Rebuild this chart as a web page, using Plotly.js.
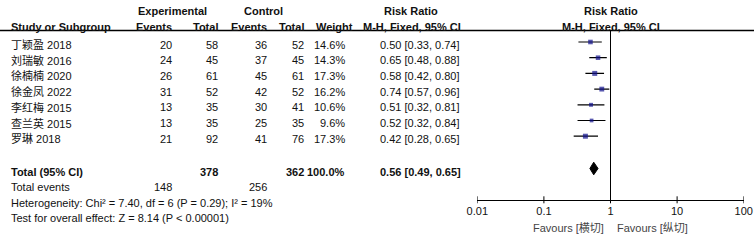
<!DOCTYPE html>
<html>
<head>
<meta charset="utf-8">
<script src="https://cdn.plot.ly/plotly-3.0.1.min.js"></script>
<style>html,body{margin:0;padding:0;background:#fff}#chart{width:754px;height:240px}</style>
</head>
<body>
<div id="chart"></div>
<script>
// ---- data ----
const studies = ['丁颖盈 2018','刘瑞敏 2016','徐楠楠 2020','徐金凤 2022','李红梅 2015','查兰英 2015','罗琳 2018'];
const expEvents = [20,24,26,31,13,13,21];
const expTotal = [58,45,61,52,35,35,92];
const ctrlEvents = [36,37,45,42,30,25,41];
const ctrlTotal = [52,45,61,52,41,35,76];
const weights = [14.6,14.3,17.3,16.2,10.6,9.6,17.3];
const rr = [0.50,0.65,0.58,0.74,0.51,0.52,0.42];
const rrLo = [0.33,0.48,0.42,0.57,0.32,0.32,0.28];
const rrHi = [0.74,0.88,0.80,0.96,0.81,0.84,0.65];
const totalLabel = 'Total (95% CI)';
const totalExpN = 378;
const totalCtrlN = 362;
const totalWeight = 100.0;
const pooled = [0.56, 0.49, 0.65]; // estimate, lower, upper
const totalEventsLabel = 'Total events';
const totalExpEvents = 148;
const totalCtrlEvents = 256;
const heterogeneityText = 'Heterogeneity: Chi² = 7.40, df = 6 (P = 0.29); I² = 19%';
const overallText = 'Test for overall effect: Z = 8.14 (P < 0.00001)';
const tickVals = [0.01, 0.1, 1, 10, 100];
const tickText = ['0.01', '0.1', '1', '10', '100'];
const favoursLeft = 'Favours [横切]';
const favoursRight = 'Favours [纵切]';
const headerTop = ['Experimental', 'Control', 'Risk Ratio', 'Risk Ratio'];
const headerBottom = ['Study or Subgroup', 'Events', 'Total', 'Events', 'Total', 'Weight', 'M-H, Fixed, 95% CI', 'M-H, Fixed, 95% CI'];

// ---- layout helpers ----
const W = 754, H = 240;
const FONT = 'Liberation Sans, Arial, Noto Sans CJK SC, sans-serif';
const TXT = '#111';
const px = v => v / W;
const rowY = i => 44.5 + 15.7 * i;
const markShift = -2.5;
const totalY = 172;
const axisY = 200.3;
const plotL = 477.3, plotR = 743.7;

const ann = [];
function t(text, x, y, anchor, bold, extra) {
  ann.push(Object.assign({
    text: bold ? '<b>' + text + '</b>' : text,
    x: px(x), xref: 'paper', y: y, yref: 'y',
    xanchor: anchor, yanchor: 'middle', showarrow: false,
    font: {family: FONT, size: 11, color: TXT}, borderpad: 0
  }, extra || {}));
}
const fmt = v => v.toFixed(2);
const ciText = (e, l, h) => fmt(e) + ' [' + fmt(l) + ', ' + fmt(h) + ']';

// headers
t(headerTop[0], 172, 11, 'center', true);
t(headerTop[1], 263, 11, 'center', true);
t(headerTop[2], 411, 11, 'center', true);
t(headerTop[3], 610.5, 11, 'center', true);
t(headerBottom[0], 10, 26.5, 'left', true);
t(headerBottom[1], 173, 26.5, 'right', true);
t(headerBottom[2], 219, 26.5, 'right', true);
t(headerBottom[3], 268, 26.5, 'right', true);
t(headerBottom[4], 305, 26.5, 'right', true);
t(headerBottom[5], 354, 26.5, 'right', true);
t(headerBottom[6], 412, 26.5, 'center', true);
t(headerBottom[7], 610.5, 26.5, 'center', true);

// study rows
studies.forEach((s, i) => {
  const y = rowY(i);
  t(s, 10, y, 'left', false);
  t(String(expEvents[i]), 172.5, y, 'right');
  t(String(expTotal[i]), 219, y, 'right');
  t(String(ctrlEvents[i]), 268, y, 'right');
  t(String(ctrlTotal[i]), 305, y, 'right');
  t(weights[i].toFixed(1) + '%', 346, y, 'right');
  t(ciText(rr[i], rrLo[i], rrHi[i]), 420, y, 'center');
});

// totals
t(totalLabel, 10, totalY, 'left', true);
t(String(totalExpN), 219, totalY, 'right', true);
t(String(totalCtrlN), 305, totalY, 'right', true);
t(totalWeight.toFixed(1) + '%', 346, totalY, 'right', true);
t(ciText(pooled[0], pooled[1], pooled[2]), 420, totalY, 'center', true);
t(totalEventsLabel, 10, 187, 'left');
t(String(totalExpEvents), 172.5, 187, 'right');
t(String(totalCtrlEvents), 268, 187, 'right');
t(heterogeneityText, 10, 202.5, 'left');
t(overallText, 10, 218, 'left');

// favours
t(favoursLeft, 605, 227.5, 'right', false, {font: {family: FONT, size: 11, color: '#444'}});
t(favoursRight, 616, 227.5, 'left', false, {font: {family: FONT, size: 11, color: '#444'}});

// ---- traces ----
const ys = studies.map((s, i) => rowY(i) + markShift);
const sizes = weights.map(w => 5 * Math.sqrt(w / 17.3));
const studyTrace = {
  type: 'scatter', mode: 'markers', x: rr, y: ys,
  marker: {symbol: 'square', size: sizes, color: '#10108c', line: {width: 0}},
  error_x: {type: 'data', symmetric: false,
    array: rr.map((v, i) => rrHi[i] - v),
    arrayminus: rr.map((v, i) => v - rrLo[i]),
    color: '#000', thickness: 1.2, width: 0},
  hoverinfo: 'skip', cliponaxis: false
};
const dY = totalY - 3.5, dH = 6.3;
const diamond = {
  type: 'scatter', mode: 'lines',
  x: [pooled[1], pooled[0], pooled[2], pooled[0], pooled[1]],
  y: [dY, dY - dH, dY, dY + dH, dY],
  fill: 'toself', fillcolor: '#000', line: {color: '#000', width: 1},
  hoverinfo: 'skip'
};

// ---- shapes ----
const shapes = [
  {type: 'line', xref: 'paper', yref: 'y', x0: 0, x1: 1, y0: 30.5, y1: 30.5, line: {color: '#000', width: 1.3}},
  {type: 'line', xref: 'x', yref: 'y', x0: 1, x1: 1, y0: 31, y1: axisY, line: {color: '#000', width: 1}}
];
tickVals.forEach(v => shapes.push({type: 'line', xref: 'x', yref: 'y', x0: v, x1: v, y0: axisY - 4, y1: axisY + 3, line: {color: '#000', width: 1}}));

const layout = {
  width: W, height: H,
  margin: {l: 0, r: 0, t: 0, b: 0, pad: 0},
  paper_bgcolor: '#fff', plot_bgcolor: 'rgba(0,0,0,0)',
  showlegend: false,
  font: {family: FONT, size: 11, color: TXT},
  xaxis: {
    type: 'log', range: [-2, 2], domain: [px(plotL), px(plotR)],
    anchor: 'free', position: 1 - axisY / H,
    showline: true, linecolor: '#000', linewidth: 1,
    ticks: '', ticklen: 0,
    tickvals: tickVals, ticktext: tickText,
    tickfont: {family: FONT, size: 11, color: TXT},
    showgrid: false, zeroline: false, fixedrange: true
  },
  yaxis: {range: [H, 0], domain: [0, 1], visible: false, showgrid: false, zeroline: false, fixedrange: true},
  annotations: ann,
  shapes: shapes
};

Plotly.newPlot('chart', [diamond, studyTrace], layout, {staticPlot: true, displayModeBar: false});
</script>
</body>
</html>
